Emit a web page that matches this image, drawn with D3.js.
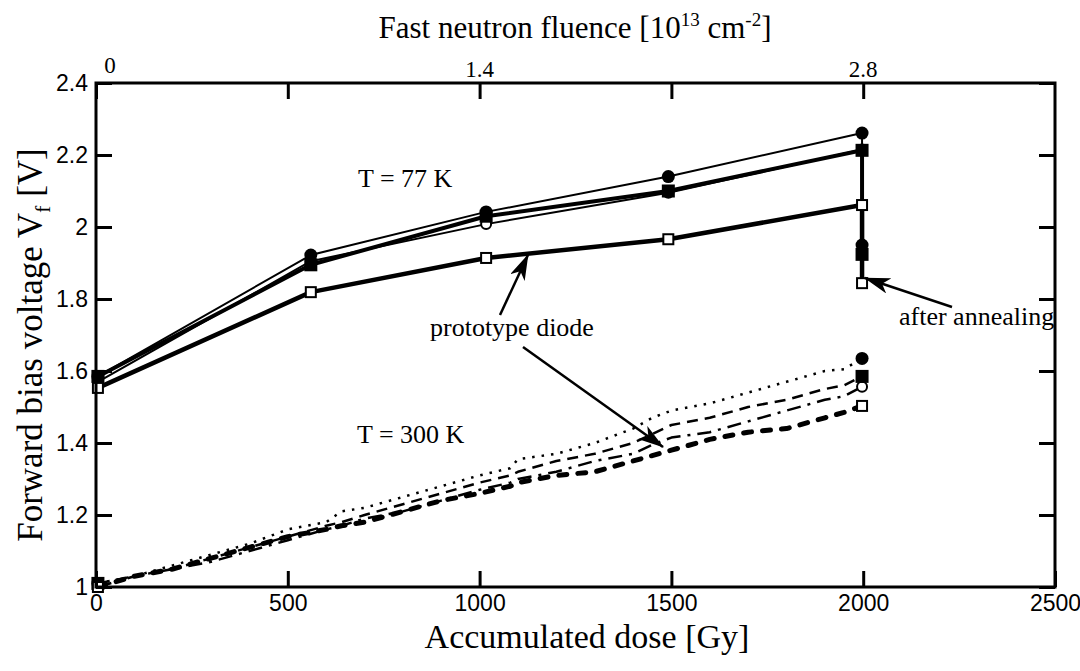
<!DOCTYPE html>
<html>
<head>
<meta charset="utf-8">
<script src="https://cdn.jsdelivr.net/npm/d3@7"></script>
<style>
  body { margin: 0; background: #fff; }
  svg text { fill: #000; }
  .serif { font-family: "Liberation Serif", "Times New Roman", serif; }
  .sans { font-family: "Liberation Sans", Arial, sans-serif; }
</style>
</head>
<body>
<svg id="chart" width="1080" height="671"></svg>
<script>
/* Data
======================================================================= */
// T = 77 K : dose [Gy] and forward voltage [V]; last point = after annealing
var coldDose = [5, 560, 1017, 1492, 1997, 1997];
var coldFilledCircle = [1.585, 1.922, 2.042, 2.140, 2.261, 1.950];
var coldOpenCircle   = [1.570, 1.905, 2.008, 2.095, 2.215, 1.932];
var coldFilledSquare = [1.585, 1.895, 2.030, 2.100, 2.213, 1.924];
var coldOpenSquare   = [1.553, 1.819, 1.914, 1.966, 2.061, 1.844];

// T = 300 K : measured during irradiation
var warmDose = [5, 100, 200, 300, 400, 500, 600, 640, 700, 800, 900, 1000, 1080, 1100,
                1200, 1300, 1400, 1450, 1500, 1600, 1700, 1800, 1900, 1950, 1997];
var warmFilledCircle = [1.010, 1.030, 1.060, 1.090, 1.120, 1.160, 1.180, 1.210, 1.220, 1.250, 1.280,
                        1.310, 1.330, 1.355, 1.370, 1.400, 1.440, 1.470, 1.490, 1.510, 1.540,
                        1.570, 1.600, 1.605, 1.635];
var warmFilledSquare = [1.010, 1.030, 1.050, 1.080, 1.110, 1.140, 1.170, 1.180, 1.200, 1.230, 1.260,
                        1.290, 1.310, 1.320, 1.350, 1.370, 1.400, 1.425, 1.450, 1.470, 1.500,
                        1.520, 1.550, 1.560, 1.585];
var warmOpenCircle   = [1.000, 1.030, 1.050, 1.070, 1.100, 1.130, 1.160, 1.170, 1.190, 1.210, 1.240,
                        1.270, 1.290, 1.300, 1.320, 1.350, 1.370, 1.395, 1.415, 1.430, 1.460,
                        1.490, 1.520, 1.530, 1.556];
var warmOpenSquare   = [1.000, 1.030, 1.050, 1.080, 1.110, 1.140, 1.160, 1.170, 1.180, 1.210, 1.240,
                        1.260, 1.280, 1.290, 1.310, 1.320, 1.350, 1.365, 1.380, 1.410, 1.430,
                        1.440, 1.470, 1.485, 1.503];

// Axes
var doseTicks = [0, 500, 1000, 1500, 2000, 2500];
var voltTicks = [1, 1.2, 1.4, 1.6, 1.8, 2, 2.2, 2.4];
var fluenceTickDose = [0, 1000, 2000];
var fluenceTickLabels = ['0', '1.4', '2.8'];

/* Layout
======================================================================= */
var svg = d3.select('#chart'),
    plotLeft = 96, plotRight = 1055, plotTop = 83, plotBottom = 587,
    tickLen = 16;

var x = d3.scaleLinear().domain([0, 2500]).range([plotLeft, plotRight]);
var y = d3.scaleLinear().domain([1, 2.4]).range([plotBottom, plotTop]);

/* Arrow marker
======================================================================= */
svg.append('defs').append('marker')
    .attr('id', 'head')
    .attr('viewBox', '0 0 26 16')
    .attr('refX', 25).attr('refY', 8)
    .attr('markerWidth', 26).attr('markerHeight', 16)
    .attr('markerUnits', 'userSpaceOnUse')
    .attr('orient', 'auto')
  .append('path')
    .attr('d', 'M0,0 L26,8 L0,16 L7,8 Z')
    .attr('fill', '#000');

/* Series
======================================================================= */
function drawSeries(dose, vals, width, dash, cap) {
  var line = d3.line()
      .x(function(d, i) { return x(dose[i]); })
      .y(function(d) { return y(d); });
  svg.append('path')
      .datum(vals)
      .attr('d', line)
      .attr('fill', 'none')
      .attr('stroke', '#000')
      .attr('stroke-width', width)
      .attr('stroke-dasharray', dash)
      .attr('stroke-linecap', cap || 'butt')
      .attr('stroke-linejoin', 'round');
}

function drawMarkers(dose, vals, shape, filled) {
  var g = svg.append('g');
  var pts = vals.map(function(v, i) { return [x(dose[i]), y(v)]; });
  if (shape === 'circle') {
    g.selectAll('circle').data(pts).enter().append('circle')
        .attr('cx', function(d) { return d[0]; })
        .attr('cy', function(d) { return d[1]; })
        .attr('r', filled ? 6.5 : 5)
        .attr('fill', filled ? '#000' : '#fff')
        .attr('stroke', '#000')
        .attr('stroke-width', filled ? 0 : 2);
  } else {
    var s = filled ? 13 : 10;
    g.selectAll('rect').data(pts).enter().append('rect')
        .attr('x', function(d) { return d[0] - s / 2; })
        .attr('y', function(d) { return d[1] - s / 2; })
        .attr('width', s).attr('height', s)
        .attr('fill', filled ? '#000' : '#fff')
        .attr('stroke', '#000')
        .attr('stroke-width', filled ? 0 : 2);
  }
}

// 300 K lines
drawSeries(warmDose, warmFilledCircle, 2.5, '2.5,7');
drawSeries(warmDose, warmFilledSquare, 2.5, '11,7');
drawSeries(warmDose, warmOpenCircle, 2.5, '14,7,3,7');
drawSeries(warmDose, warmOpenSquare, 5, '8,11', 'round');

// 77 K lines
drawSeries(coldDose, coldOpenSquare, 4.5);
drawSeries(coldDose, coldFilledSquare, 4);
drawSeries(coldDose, coldOpenCircle, 2);
drawSeries(coldDose, coldFilledCircle, 2);

// markers (77 K all points, 300 K first and last)
function ends(a) { return [a[0], a[a.length - 1]]; }
drawMarkers(coldDose, coldOpenCircle, 'circle', false);
drawMarkers(coldDose, coldFilledSquare, 'square', true);
drawMarkers(coldDose, coldFilledCircle, 'circle', true);
drawMarkers(coldDose, coldOpenSquare, 'square', false);
drawMarkers(ends(warmDose), ends(warmOpenCircle), 'circle', false);
drawMarkers(ends(warmDose), ends(warmFilledSquare), 'square', true);
drawMarkers(ends(warmDose), ends(warmFilledCircle), 'circle', true);
drawMarkers(ends(warmDose), ends(warmOpenSquare), 'square', false);

/* Axes (frame with inward ticks)
======================================================================= */
var bottomAxis = d3.axisBottom(x).tickValues(doseTicks).tickSize(-tickLen).tickPadding(8).tickFormat(d3.format('d'));
var leftAxis = d3.axisLeft(y).tickValues(voltTicks).tickSize(-tickLen).tickPadding(8).tickFormat(function(d) { return String(+d.toFixed(1)); });
var rightAxis = d3.axisRight(y).tickValues(voltTicks).tickSize(-tickLen).tickFormat('');
var topAxis = d3.axisTop(x).tickValues(doseTicks.slice(0, 5)).tickSize(-tickLen).tickFormat('');

function styleAxis(g) {
  g.select('.domain').remove();
  g.selectAll('line').attr('stroke', '#000').attr('stroke-width', 3);
}

svg.append('g').attr('transform', 'translate(0,' + plotBottom + ')').call(bottomAxis).call(styleAxis)
    .selectAll('text').attr('class', 'sans').style('font-size', '23px').attr('font-family', null);
svg.append('g').attr('transform', 'translate(' + plotLeft + ',0)').call(leftAxis).call(styleAxis)
    .selectAll('text').attr('class', 'sans').style('font-size', '23px').attr('font-family', null);
svg.append('g').attr('transform', 'translate(' + plotRight + ',0)').call(rightAxis).call(styleAxis);
svg.append('g').attr('transform', 'translate(0,' + plotTop + ')').call(topAxis).call(styleAxis);

// frame
svg.append('rect')
    .attr('x', plotLeft).attr('y', plotTop)
    .attr('width', plotRight - plotLeft).attr('height', plotBottom - plotTop)
    .attr('fill', 'none').attr('stroke', '#000').attr('stroke-width', 3);

// top fluence labels
svg.selectAll('.flu').data(fluenceTickDose).enter().append('text')
    .attr('class', 'serif')
    .attr('x', function(d, i) { return x(d) + (i === 0 ? 14 : 0); })
    .attr('y', function(d, i) { return i === 0 ? plotTop - 10 : plotTop - 6; })
    .attr('text-anchor', 'middle')
    .style('font-size', '23px')
    .text(function(d, i) { return fluenceTickLabels[i]; });

/* Titles
======================================================================= */
svg.append('text').attr('class', 'serif')
    .attr('x', 587).attr('y', 648)
    .attr('text-anchor', 'middle').style('font-size', '34px')
    .text('Accumulated dose [Gy]');

var tt = svg.append('text').attr('class', 'serif')
    .attr('x', 575).attr('y', 38)
    .attr('text-anchor', 'middle').style('font-size', '31px');
tt.append('tspan').text('Fast neutron fluence [10');
tt.append('tspan').attr('dy', -12).style('font-size', '19px').text('13');
tt.append('tspan').attr('dy', 12).text(' cm');
tt.append('tspan').attr('dy', -12).style('font-size', '19px').text('-2');
tt.append('tspan').attr('dy', 12).text(']');

var yt = svg.append('text').attr('class', 'serif')
    .attr('transform', 'translate(42,345) rotate(-90)')
    .attr('text-anchor', 'middle').style('font-size', '35px');
yt.append('tspan').text('Forward bias voltage V');
yt.append('tspan').attr('dy', 8).style('font-size', '22px').text('f');
yt.append('tspan').attr('dy', -8).text(' [V]');

/* Annotations
======================================================================= */
function note(tx, ty, txt) {
  svg.append('text').attr('class', 'serif')
      .attr('x', tx).attr('y', ty).style('font-size', '26px').text(txt);
}
note(358, 187, 'T = 77 K');
note(357, 443, 'T = 300 K');
note(430, 336, 'prototype diode');
note(899, 325, 'after annealing');

function arrow(x1, y1, x2, y2) {
  svg.append('line')
      .attr('x1', x1).attr('y1', y1).attr('x2', x2).attr('y2', y2)
      .attr('stroke', '#000').attr('stroke-width', 2.5)
      .attr('marker-end', 'url(#head)');
}
arrow(500, 315, 528, 255);
arrow(523, 347, 663, 447);
arrow(952, 307, 865, 278);
</script>
</body>
</html>
